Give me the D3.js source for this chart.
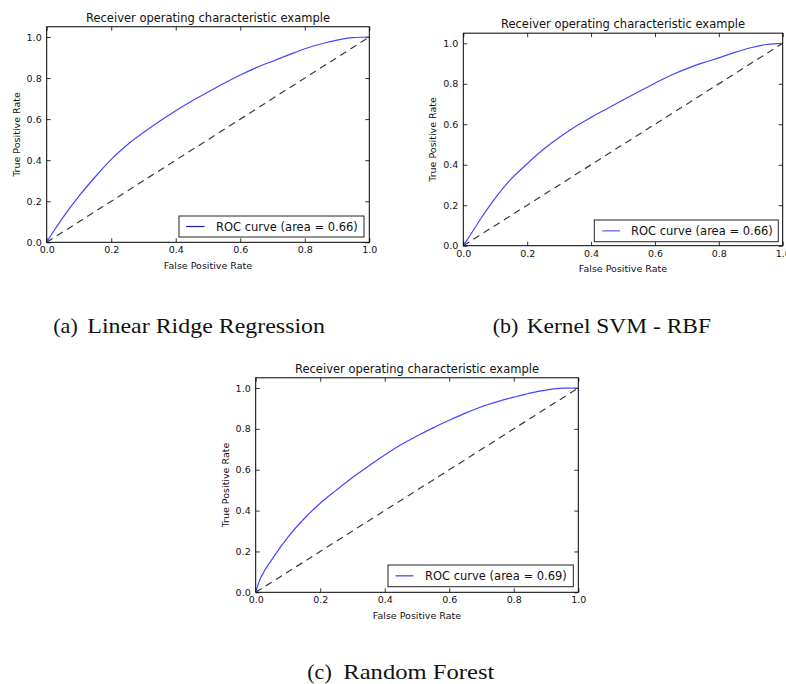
<!DOCTYPE html>
<html><head><meta charset="utf-8">
<script src="https://cdn.jsdelivr.net/npm/d3@7"></script>
<style>body{margin:0;background:#fff}svg{display:block}</style>
</head><body>
<script>
// ---- data ----
const ridgeFPR = [0, 0.02, 0.05, 0.10, 0.15, 0.20, 0.25, 0.30, 0.35, 0.40, 0.45, 0.50, 0.55, 0.60, 0.65, 0.70, 0.75, 0.80, 0.85, 0.90, 0.95, 1.0];
const ridgeTPR = [0, 0.050, 0.120, 0.225, 0.318, 0.404, 0.475, 0.535, 0.590, 0.641, 0.688, 0.732, 0.775, 0.815, 0.851, 0.882, 0.913, 0.943, 0.966, 0.985, 0.997, 1.0];
const svmFPR = [0, 0.02, 0.05, 0.10, 0.15, 0.20, 0.25, 0.30, 0.35, 0.40, 0.45, 0.50, 0.55, 0.60, 0.65, 0.70, 0.75, 0.80, 0.85, 0.90, 0.95, 1.0];
const svmTPR = [0, 0.048, 0.122, 0.235, 0.330, 0.405, 0.475, 0.535, 0.588, 0.634, 0.677, 0.720, 0.762, 0.803, 0.842, 0.875, 0.903, 0.928, 0.955, 0.978, 0.994, 1.0];
const rfFPR = [0, 0.01, 0.02, 0.05, 0.10, 0.15, 0.20, 0.25, 0.30, 0.35, 0.40, 0.45, 0.50, 0.55, 0.60, 0.65, 0.70, 0.75, 0.80, 0.85, 0.90, 0.95, 1.0];
const rfTPR = [0, 0.050, 0.085, 0.160, 0.270, 0.360, 0.436, 0.500, 0.562, 0.618, 0.672, 0.722, 0.765, 0.805, 0.842, 0.877, 0.908, 0.933, 0.955, 0.975, 0.990, 0.999, 1.0];
const chanceLine = [0, 1];
const xTicks = [0.0, 0.2, 0.4, 0.6, 0.8, 1.0];
const yTicks = [0.0, 0.2, 0.4, 0.6, 0.8, 1.0];
const chartTitle = "Receiver operating characteristic example";
const xLabel = "False Positive Rate";
const yLabel = "True Positive Rate";
const legendLabels = ["ROC curve (area = 0.66)", "ROC curve (area = 0.66)", "ROC curve (area = 0.69)"];
const captionTags = ["(a)", "(b)", "(c)"];
const captionNames = ["Linear Ridge Regression", "Kernel SVM - RBF", "Random Forest"];

// ---- layout (positions only) ----
const layout = [
  {L: 46.7, R: 369.3, y0: 242.3, y1: 37.0, lg: {x0: 179, x1: 364, t: 216, b: 237, lx0: 186, lx1: 204.5, tx: 216}, lcol: "#1c1cb8",
   cap: {tagX: 53.3, nameX: 87.3, nameEnd: 325, base: 333}},
  {L: 463.3, R: 782.7, y0: 245.7, y1: 43.3, lg: {x0: 594.3, x1: 778.3, t: 220, b: 241.7, lx0: 602.3, lx1: 620, tx: 631}, lcol: "#5a5aff",
   cap: {tagX: 492.7, nameX: 526.7, nameEnd: 711, base: 333}},
  {L: 255.7, R: 578.3, y0: 592.3, y1: 388.0, lg: {x0: 388, x1: 573.3, t: 565, b: 586.7, lx0: 395.5, lx1: 413.5, tx: 425}, lcol: "#3a3aff",
   cap: {tagX: 307.3, nameX: 343.3, nameEnd: 494.3, base: 679}}
];
const series = [[ridgeFPR, ridgeTPR], [svmFPR, svmTPR], [rfFPR, rfTPR]];

const W = 786, H = 684;
const svg = d3.select("body").append("svg").attr("width", W).attr("height", H);
const sans = "'DejaVu Sans', sans-serif";
const serif = "'Liberation Serif', 'Times New Roman', serif";

layout.forEach((p, i) => {
  const x = d3.scaleLinear().domain([0, 1]).range([p.L, p.R]);
  const y = d3.scaleLinear().domain([0, 1]).range([p.y0, p.y1]);
  const top = y(1.05);
  const g = svg.append("g");

  const tl = 4;
  const bottomAxis = d3.axisBottom(x).tickValues(xTicks).tickSize(-tl).tickFormat(d3.format(".1f"));
  const topAxis = d3.axisTop(x).tickValues(xTicks).tickSize(-tl).tickFormat("");
  const leftAxis = d3.axisLeft(y).tickValues(yTicks).tickSize(-tl).tickFormat(d3.format(".1f")).tickPadding(5);
  const rightAxis = d3.axisRight(y).tickValues(yTicks).tickSize(-tl).tickFormat("");

  const ab = g.append("g").attr("transform", `translate(0,${p.y0})`).call(bottomAxis);
  const at = g.append("g").attr("transform", `translate(0,${top})`).call(topAxis);
  const al = g.append("g").attr("transform", `translate(${p.L},0)`).call(leftAxis);
  const ar = g.append("g").attr("transform", `translate(${p.R},0)`).call(rightAxis);
  [ab, at, al, ar].forEach(a => {
    a.select(".domain").remove();
    a.selectAll("line").attr("stroke", "#000").attr("stroke-width", 0.8);
    a.selectAll("text").attr("font-family", sans).attr("font-size", 9.5).attr("fill", "#111");
  });
  ab.selectAll("text").attr("y", 11).attr("dy", 0);

  // diagonal dashed
  g.append("path")
    .datum(chanceLine)
    .attr("d", d3.line().x(d => x(d)).y(d => y(d)))
    .attr("stroke", "#3a3a3a").attr("stroke-width", 1.2).attr("stroke-dasharray", "7,5").attr("fill", "none");

  // ROC curve
  const fpr = series[i][0], tpr = series[i][1];
  g.append("path")
    .datum(d3.range(fpr.length))
    .attr("d", d3.line().x(k => x(fpr[k])).y(k => y(tpr[k])).curve(d3.curveMonotoneX))
    .attr("stroke", "#4646ff").attr("stroke-width", 1.2).attr("fill", "none");

  // frame
  g.append("rect").attr("x", p.L).attr("y", top).attr("width", p.R - p.L).attr("height", p.y0 - top)
    .attr("fill", "none").attr("stroke", "#000").attr("stroke-width", 1);

  // title
  g.append("text").attr("x", (p.L + p.R) / 2).attr("y", top - 4.8).attr("text-anchor", "middle")
    .attr("font-family", sans).attr("font-size", 11.5).attr("fill", "#111").text(chartTitle);
  // x label
  g.append("text").attr("x", (p.L + p.R) / 2).attr("y", p.y0 + 26.3).attr("text-anchor", "middle")
    .attr("font-family", sans).attr("font-size", 9.5).attr("fill", "#111").text(xLabel);
  // y label
  g.append("text").attr("transform", `translate(${p.L - 27},${(top + p.y0) / 2}) rotate(-90)`).attr("text-anchor", "middle")
    .attr("font-family", sans).attr("font-size", 9.5).attr("fill", "#111").text(yLabel);

  // legend
  const lg = p.lg;
  g.append("rect").attr("x", lg.x0).attr("y", lg.t).attr("width", lg.x1 - lg.x0).attr("height", lg.b - lg.t)
    .attr("fill", "#fff").attr("stroke", "#222").attr("stroke-width", 1);
  const ly = (lg.t + lg.b) / 2;
  g.append("line").attr("x1", lg.lx0).attr("x2", lg.lx1).attr("y1", ly).attr("y2", ly)
    .attr("stroke", p.lcol).attr("stroke-width", 1.2);
  g.append("text").attr("x", lg.tx).attr("y", ly + 4.1)
    .attr("font-family", sans).attr("font-size", 11.5).attr("fill", "#111").text(legendLabels[i]);

  // caption
  const c = p.cap;
  svg.append("text").attr("x", c.tagX).attr("y", c.base)
    .attr("font-family", serif).attr("font-size", 22).attr("fill", "#111")
    .text(captionTags[i]);
  svg.append("text").attr("x", c.nameX).attr("y", c.base)
    .attr("font-family", serif).attr("font-size", 22).attr("fill", "#111")
    .attr("textLength", c.nameEnd - c.nameX).attr("lengthAdjust", "spacingAndGlyphs")
    .text(captionNames[i]);
});
</script>
</body></html>
